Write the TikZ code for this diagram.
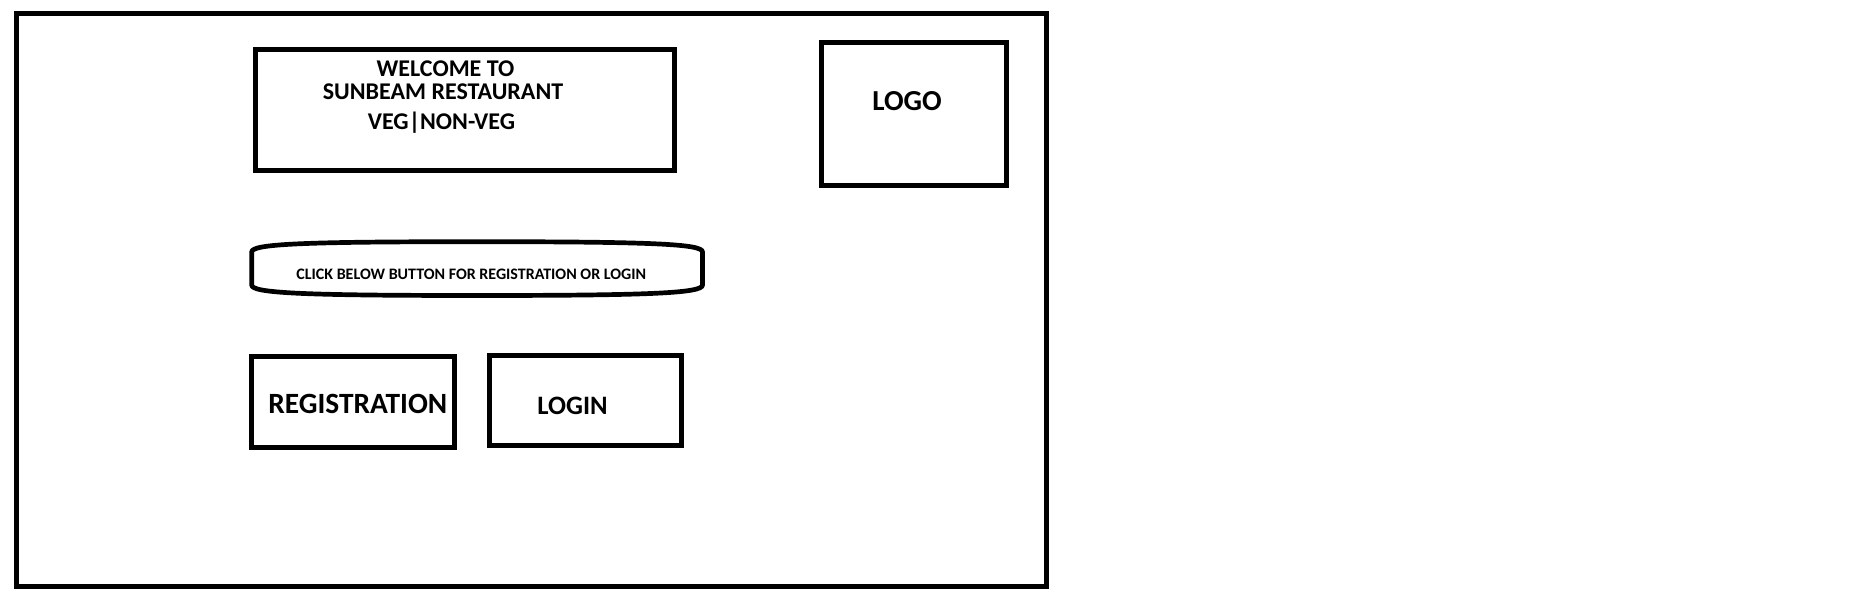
\documentclass[tikz,border=0pt]{standalone}
\usepackage{fontspec}
\setmainfont{Carlito}
\begin{document}
\begin{tikzpicture}[x=0.5pt,y=-0.5pt,
  frame/.style={draw=black,line width=2.35pt,inner sep=0pt,outer sep=0pt,rectangle},
  txt/.style={inner sep=0pt,anchor=base,text=black,font=\bfseries\fontsize{#1}{#1}\selectfont},
  txt/.default=11
]
\useasboundingbox (0,0) rectangle (1854,615);
\fill[white] (0,0) rectangle (1854,615);
% outer frame
\node[frame,minimum width=515pt,minimum height=286.5pt] (screen) at (531.3,299.8) {};
% welcome box
\node[frame,minimum width=209.3pt,minimum height=60.3pt] (welcome) at (465,110) {};
\node[txt=12] (w1) at (445.5,76.7) {WELCOME TO};
\node[txt=12] (w2) at (443,99.3) {SUNBEAM RESTAURANT};
\node[txt=12] (w3) at (441.5,129.3) {VEG|NON-VEG};
% logo
\node[frame,minimum width=92.3pt,minimum height=71.75pt] (logo) at (914,114) {};
\node[txt=14.5] (logotext) at (907,111) {LOGO};
% pill
\draw[line width=2.35pt] (251.7,252) -- (251.7,285)
  .. controls (251.7,293) and (300,295.5) .. (477,295.5)
  .. controls (654,295.5) and (702.5,293) .. (702.5,285)
  -- (702.5,252)
  .. controls (702.5,244) and (654,241.7) .. (477,241.7)
  .. controls (300,241.7) and (251.7,244) .. cycle;
\node[txt=8] (click) at (471.3,279.3) {CLICK BELOW BUTTON FOR REGISTRATION OR LOGIN};
% buttons
\node[frame,minimum width=101.3pt,minimum height=45.5pt] (reg) at (353,402) {};
\node[txt=14.7] (regtext) at (357.8,413.3) {REGISTRATION};
\node[frame,minimum width=96pt,minimum height=45pt] (login) at (585.7,400.8) {};
\node[txt=13.3] (logintext) at (572.5,414) {LOGIN};
\end{tikzpicture}
\end{document}
